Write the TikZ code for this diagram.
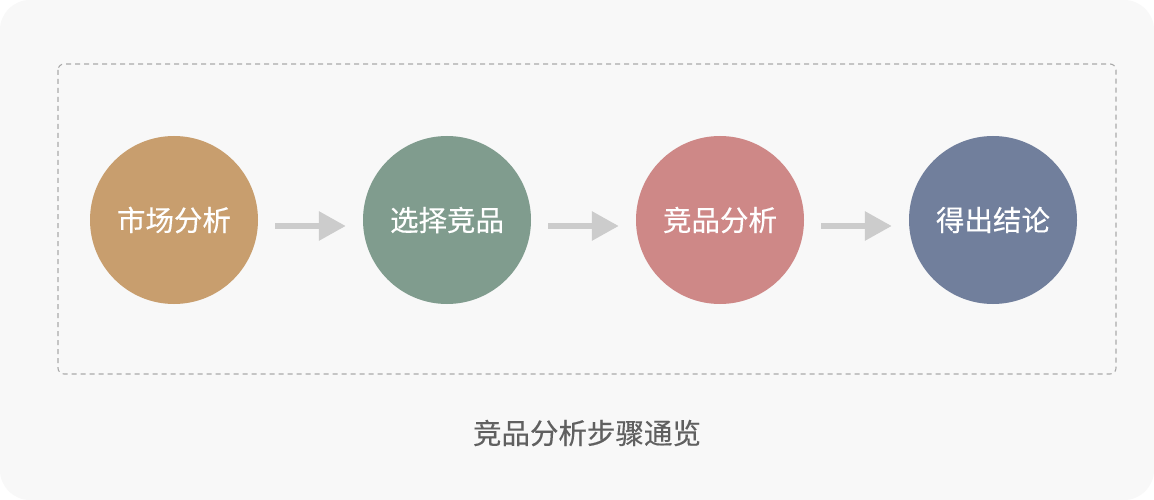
\documentclass[tikz,border=0pt]{standalone}
\usepackage{fontspec}
\setmainfont{Noto Sans CJK SC}
\newfontfamily\medcjk[FakeBold=0.35]{Noto Sans CJK SC}
\usetikzlibrary{arrows.meta}
\definecolor{bgc}{HTML}{F8F8F8}
\definecolor{dashc}{HTML}{AAAAAA}
\definecolor{arrc}{HTML}{CCCCCC}
\definecolor{cA}{HTML}{C89E6E}
\definecolor{cB}{HTML}{809C8E}
\definecolor{cC}{HTML}{CE8887}
\definecolor{cD}{HTML}{717F9C}
\definecolor{titlec}{HTML}{606060}
\tikzset{
  stepcircle/.style={circle, minimum size=168pt, inner sep=0pt, text=white, font=\medcjk\fontsize{28.5}{32}\selectfont},
  flowarrow/.style={draw=arrc, line width=6pt, -{Triangle[length=27pt,width=28pt]}, shorten <=17pt, shorten >=17pt},
}
\begin{document}
\begin{tikzpicture}[x=1pt,y=-1pt]
\useasboundingbox (0,0) rectangle (1154,500);
\fill[white] (0,0) rectangle (1154,500);
\fill[bgc, rounded corners=30pt] (0,0) rectangle (1154,500);
\draw[dashc, line width=1.1pt, dash pattern=on 5pt off 4pt, rounded corners=6pt] (58,64) rectangle (1116,374);
\node[stepcircle, fill=cA] (c1) at (174,220) {市场分析};
\node[stepcircle, fill=cB] (c2) at (447,220) {选择竞品};
\node[stepcircle, fill=cC] (c3) at (720,220) {竞品分析};
\node[stepcircle, fill=cD] (c4) at (993,220) {得出结论};
\draw[flowarrow] ([yshift=-6pt]c1.east) -- ([yshift=-6pt]c2.west);
\draw[flowarrow] ([yshift=-6pt]c2.east) -- ([yshift=-6pt]c3.west);
\draw[flowarrow] ([yshift=-6pt]c3.east) -- ([yshift=-6pt]c4.west);
\node[text=titlec, font=\medcjk\fontsize{28.5}{32}\selectfont] (title) at (587,433) {竞品分析步骤通览};
\end{tikzpicture}
\end{document}
